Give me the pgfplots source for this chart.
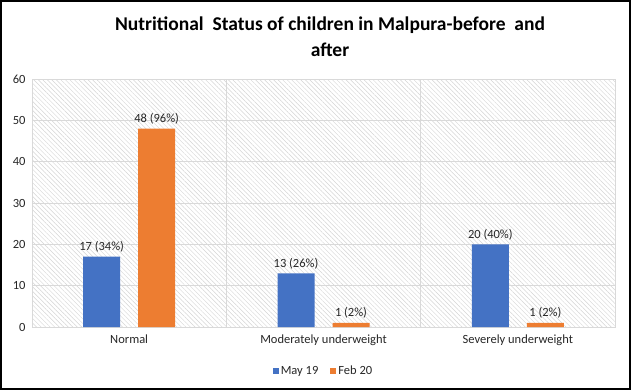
\documentclass[border=0pt]{standalone}
\usepackage{pgfplots}
\pgfplotsset{compat=1.18}
\usepackage{fontspec}
\setmainfont{Carlito}
\usetikzlibrary{patterns.meta}
\definecolor{cblue}{HTML}{4472C4}
\definecolor{corange}{HTML}{ED7D31}
\definecolor{gridgray}{HTML}{D9D9D9}
\begin{document}
\begin{tikzpicture}[x=1bp,y=1bp]
\useasboundingbox (-32,-63) rectangle (599,327);
\draw[line width=1.6bp,black] (-31.2,-62.2) rectangle (598.2,326.2);
\begin{axis}[
  at={(0,0)}, anchor=south west,
  scale only axis, width=583bp, height=248bp,
  ymin=0, ymax=60, ytick={0,10,...,60},
  xmin=-0.5, xmax=2.5,
  xtick={0,1,2},
  xticklabels={Normal,Moderately underweight,Severely underweight},
  minor xtick={0.5,1.5},
  ymajorgrids, xminorgrids,
  grid style={gridgray, line width=0.8bp},
  minor grid style={gridgray, line width=0.8bp},
  axis line style={gridgray, line width=0.8bp},
  major tick length=0pt, minor tick length=0pt,
  tick style={draw=none},
  ticklabel style={font=\fontsize{12.5bp}{14bp}\selectfont, text=black!85},
  /pgf/number format/assume math mode=true,
  yticklabel style={xshift=-3bp},
  xticklabel style={yshift=-4bp},
  axis background/.style={pattern={Lines[angle=-45,distance=3.2bp,line width=0.45bp]}, pattern color=black!17},
  ybar=18bp, bar width=37bp,
  nodes near coords,
  point meta=explicit symbolic,
  every node near coord/.append style={font=\fontsize{12.5bp}{14bp}\selectfont, text=black!85, yshift=1bp},
  legend columns=2,
  legend style={at={(0.5,-0.14)}, anchor=north, draw=none, fill=none,
    font=\fontsize{12.5bp}{14bp}\selectfont, text=black!85,
    /tikz/every even column/.append style={column sep=10bp}},
  legend image code/.code={\fill[#1] (0bp,-3bp) rectangle (6bp,3bp);},
  clip=false,
]
\addplot[fill=cblue, draw=none] coordinates {(0,17) [17 (34\%)] (1,13) [13 (26\%)] (2,20) [20 (40\%)]};
\addplot[fill=corange, draw=none] coordinates {(0,48) [48 (96\%)] (1,1) [1 (2\%)] (2,1) [1 (2\%)]};
\legend{May 19, Feb 20}
\end{axis}
\node[align=center, font=\fontsize{19.5bp}{26bp}\selectfont\bfseries] at (298,290)
  {Nutritional~ Status of children in Malpura-before~ and\\after};
\end{tikzpicture}
\end{document}
